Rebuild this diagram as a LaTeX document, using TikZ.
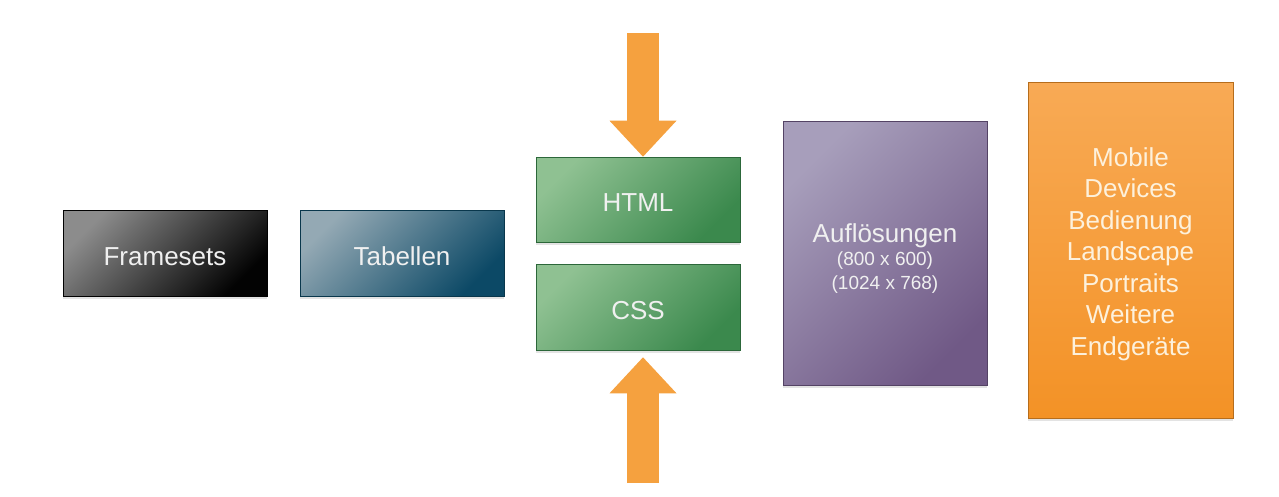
\documentclass[tikz,border=0pt]{standalone}
\usepackage{fontspec}
\setmainfont{Liberation Sans}
\usetikzlibrary{arrows.meta,shadows}
\definecolor{greyA}{HTML}{8C8C8C}
\definecolor{greyB}{HTML}{030303}
\definecolor{tealA}{HTML}{94A9B4}
\definecolor{tealB}{HTML}{0C4966}
\definecolor{greenA}{HTML}{8FC192}
\definecolor{greenB}{HTML}{3B894D}
\definecolor{lilaA}{HTML}{A79EBB}
\definecolor{lilaB}{HTML}{705986}
\definecolor{orangeA}{HTML}{F8AA55}
\definecolor{orangeB}{HTML}{F39226}
\definecolor{arrowcol}{HTML}{F5A13F}
\definecolor{cream}{HTML}{FDF1DC}

\begin{document}
\begin{tikzpicture}[x=1pt,y=-1pt,
    box/.style 2 args={draw=#2!75!black, line width=0.6pt,
      top color=#1, bottom color=#2, shading angle=45,
      minimum width=204pt, minimum height=86pt, inner sep=0pt,
      text=white!94!black, align=center,
      font=\fontsize{26}{31.5}\selectfont,
      drop shadow={shadow xshift=0pt, shadow yshift=-2.5pt, opacity=0.22}},
    oneline/.style={text height=24pt, text depth=0pt},
    bigarrow/.style={draw=arrowcol, line width=32pt,
      -{Triangle[width=67pt,length=36pt,line width'=0pt]}}]
  \useasboundingbox (0,0) rectangle (1279,496);
  \node[box={greyA}{greyB}, oneline] (frames) at (165,253) {Framesets};
  \node[box={tealA}{tealB}, oneline] (tab) at (402,253) {Tabellen};
  \node[box={greenA}{greenB}, oneline, minimum height=85pt] (html) at (638,199.5) {HTML};
  \node[box={greenA}{greenB}, oneline] (css) at (638,307) {CSS};
  \node[box={lilaA}{lilaB}, minimum height=264pt] (res) at (885,253)
    {\rule{0pt}{30pt}Aufl\"osungen\\[-8.5pt]{\fontsize{19}{24}\selectfont (800 x 600)}\\[-7.5pt]%
     {\fontsize{19}{24}\selectfont (1024 x 768)}};
  \node[box={orangeA}{orangeB}, shading angle=0, minimum width=205pt,
    minimum height=336pt, text=cream] (mobile) at (1130.5,250)
    {\rule{0pt}{27pt}Mobile\\Devices\\Bedienung\\Landscape\\Portraits\\Weitere\\Endger\"ate};
  % arrows pressing on HTML and CSS
  \coordinate (topin) at (643,33);
  \coordinate (botin) at (643,483);
  \draw[bigarrow] (topin) -- (topin |- html.north);
  \draw[bigarrow] (botin) -- ([yshift=-7pt]botin |- css.south);
\end{tikzpicture}
\end{document}
